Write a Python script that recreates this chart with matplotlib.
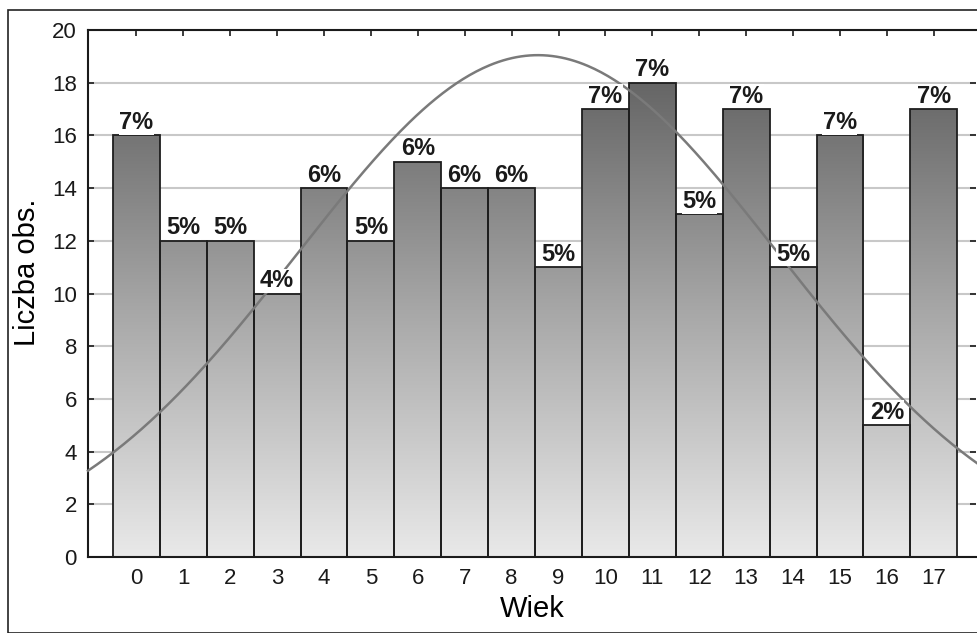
import numpy as np
import matplotlib
matplotlib.use("Agg")
import matplotlib.pyplot as plt
from matplotlib.colors import LinearSegmentedColormap
from matplotlib.patches import Rectangle

# data: counts per age
ages = list(range(18))
counts = [16, 12, 12, 10, 14, 12, 15, 14, 14, 11, 17, 18, 13, 17, 11, 16, 5, 17]
y_ticks = [0, 2, 4, 6, 8, 10, 12, 14, 16, 18, 20]

plt.rcParams['font.family'] = ['Liberation Sans', 'DejaVu Sans']

fig = plt.figure(figsize=(9.78, 6.33), dpi=100)
# outer frame
fig.patches.append(Rectangle((8 / 978, 0), 1.0, 1 - 10 / 633, transform=fig.transFigure,
                             fill=False, edgecolor='#222222', linewidth=1.2))
ax = fig.add_axes([88 / 978, 1 - 557 / 633, 1 - 88 / 978 - 2 / 978, (557 - 30) / 633])

# gradient in data coordinates: dark at top, light at bottom
cmap = LinearSegmentedColormap.from_list('g', ['#e9e9e9', '#a6a6a6', '#5e5e5e'])
grad = np.linspace(0, 1, 256).reshape(-1, 1)

for a, c in zip(ages, counts):
    rect = Rectangle((a - 0.5, 0), 1, c, facecolor='none', edgecolor='#1e1e1e',
                     linewidth=1.3, zorder=3)
    ax.add_patch(rect)
    im = ax.imshow(grad, extent=(a - 0.5, a + 0.5, 0, 19), origin='lower',
                   cmap=cmap, aspect='auto', zorder=2)
    im.set_clip_path(rect)

ax.set_xlim(-1.03, 17.9)
ax.set_ylim(0, 20)

# fitted normal curve
n = sum(counts)
mu = sum(a * c for a, c in zip(ages, counts)) / n
sd = np.sqrt(sum(c * (a - mu) ** 2 for a, c in zip(ages, counts)) / n)
xs = np.linspace(-1.03, 17.95, 400)
ys = n / (sd * np.sqrt(2 * np.pi)) * np.exp(-0.5 * ((xs - mu) / sd) ** 2)
ax.plot(xs, ys, color='#7a7a7a', linewidth=1.8, zorder=4, clip_on=False)

# percent labels
for a, c in zip(ages, counts):
    ax.text(a, c + 0.05, f"{round(100 * c / n)}%", ha='center', va='bottom',
            fontsize=17, fontweight='bold', color='#1a1a1a', zorder=5,
            bbox=dict(facecolor='white', edgecolor='none', pad=0.3))

ax.set_yticks(y_ticks)
ax.set_xticks(ages)
ax.yaxis.grid(True, color='#c8c8c8', linewidth=1.5, zorder=0)
ax.set_axisbelow(True)
ax.tick_params(axis='both', labelsize=16, colors='#1a1a1a', length=4, width=1.2,
               direction='in', top=True, right=True, pad=8)
for s in ['right']:
    ax.spines[s].set_visible(False)
for s in ['left', 'top', 'bottom']:
    ax.spines[s].set_linewidth(1.5)
    ax.spines[s].set_color('#1a1a1a')

ax.set_xlabel('Wiek', fontsize=21, labelpad=4)
ax.set_ylabel('Liczba obs.', fontsize=21)
ax.yaxis.set_label_coords(-0.053, 0.54)

fig.savefig('out.png', dpi=100)
